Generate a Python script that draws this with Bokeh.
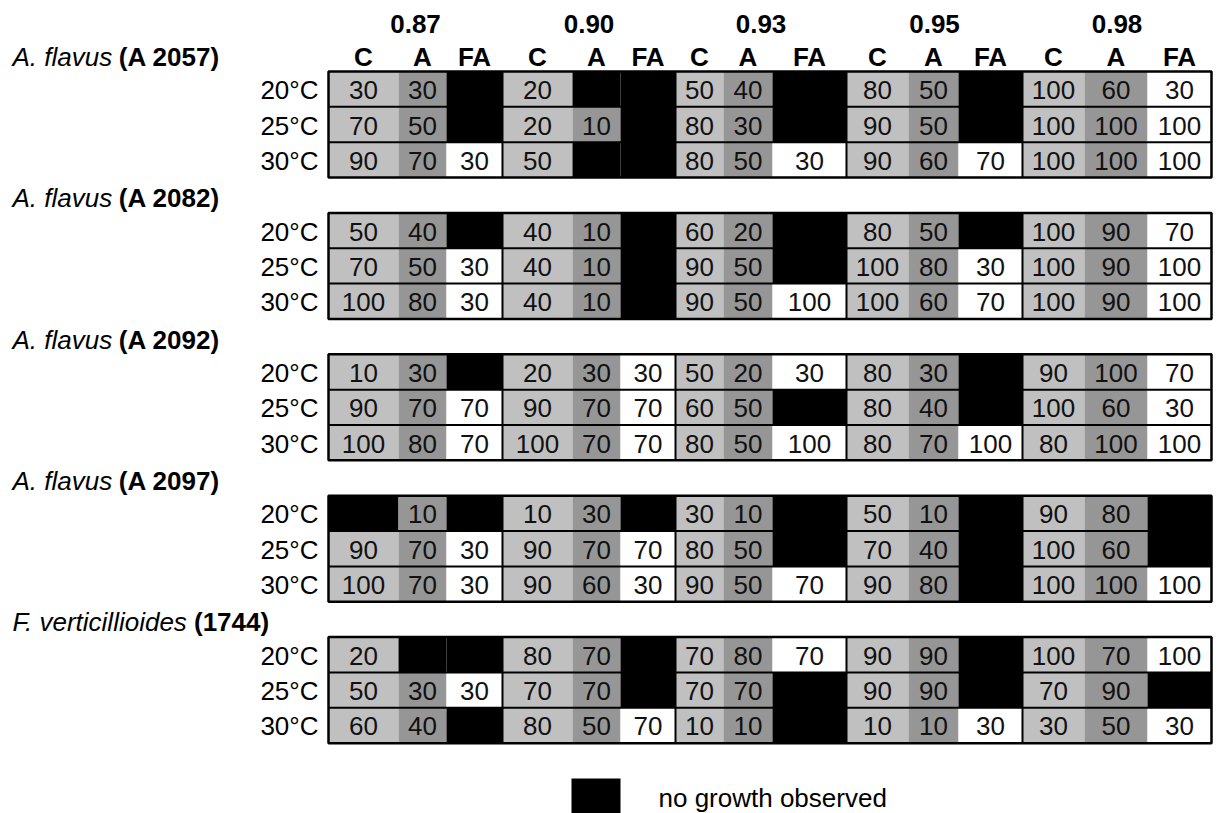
from bokeh.plotting import figure
from bokeh.models import Range1d, ColumnDataSource
from bokeh.embed import file_html
from bokeh.resources import INLINE
from bokeh.core.properties import value

# ---------------- data ----------------
aw_levels = ["0.87", "0.90", "0.93", "0.95", "0.98"]
treatments = ["C", "A", "FA"]
temperatures = ["20°C", "25°C", "30°C"]
species = ["A. flavus", "A. flavus", "A. flavus", "A. flavus", "F. verticillioides"]
isolates = ["(A 2057)", "(A 2082)", "(A 2092)", "(A 2097)", "(1744)"]
N = None  # no growth observed

growth_A2057 = [
    [30, 30, N, 20, N, N, 50, 40, N, 80, 50, N, 100, 60, 30],
    [70, 50, N, 20, 10, N, 80, 30, N, 90, 50, N, 100, 100, 100],
    [90, 70, 30, 50, N, N, 80, 50, 30, 90, 60, 70, 100, 100, 100],
]
growth_A2082 = [
    [50, 40, N, 40, 10, N, 60, 20, N, 80, 50, N, 100, 90, 70],
    [70, 50, 30, 40, 10, N, 90, 50, N, 100, 80, 30, 100, 90, 100],
    [100, 80, 30, 40, 10, N, 90, 50, 100, 100, 60, 70, 100, 90, 100],
]
growth_A2092 = [
    [10, 30, N, 20, 30, 30, 50, 20, 30, 80, 30, N, 90, 100, 70],
    [90, 70, 70, 90, 70, 70, 60, 50, N, 80, 40, N, 100, 60, 30],
    [100, 80, 70, 100, 70, 70, 80, 50, 100, 80, 70, 100, 80, 100, 100],
]
growth_A2097 = [
    [N, 10, N, 10, 30, N, 30, 10, N, 50, 10, N, 90, 80, N],
    [90, 70, 30, 90, 70, 70, 80, 50, N, 70, 40, N, 100, 60, N],
    [100, 70, 30, 90, 60, 30, 90, 50, 70, 90, 80, N, 100, 100, 100],
]
growth_F1744 = [
    [20, N, N, 80, 70, N, 70, 80, 70, 90, 90, N, 100, 70, 100],
    [50, 30, 30, 70, 70, N, 70, 70, N, 90, 90, N, 70, 90, N],
    [60, 40, N, 80, 50, 70, 10, 10, N, 10, 10, 30, 30, 50, 30],
]
growth_tables = [growth_A2057, growth_A2082, growth_A2092, growth_A2097, growth_F1744]
legend_label = "no growth observed"

# ---------------- layout / style ----------------
W, H = 1218, 813
FONT = value("Liberation Sans")
FS = "26px"
FS_PX = 26
col_edges = [328, 398, 446, 502, 572, 620, 675, 723, 772, 846, 908, 958, 1022, 1084, 1147, 1211]
table_left, table_right = col_edges[0], col_edges[-1]
table_top = 71.0
row_h = 35.35
block_pitch = 4 * row_h
treat_colors = {"C": "#c0c0c0", "A": "#969696", "FA": "#ffffff"}
nogrowth_color = "#000000"

# approximate advance widths (em) of the italic label characters
ADV = {'A': .667, '.': .278, ' ': .278, 'f': .278, 'l': .2, 'a': .556, 'v': .5,
       'u': .556, 's': .5, 'F': .611, 'e': .556, 'r': .333, 't': .278, 'i': .2,
       'c': .5, 'o': .556, 'd': .556}


def text_width(s):
    return sum(ADV.get(ch, .556) for ch in s) * FS_PX


p = figure(width=W, height=H, x_range=Range1d(0, W), y_range=Range1d(H, 0),
           output_backend="svg", toolbar_location=None,
           x_axis_location=None, y_axis_location=None,
           min_border=0, outline_line_color=None)
p.grid.visible = False
p.background_fill_color = "white"
p.border_fill_color = "white"

# ---------------- cells ----------------
cl, cr, ct, cb, cf, tx, ty, tt = [], [], [], [], [], [], [], []
for b, table in enumerate(growth_tables):
    btop = table_top + b * block_pitch
    for r, row in enumerate(table):
        top = btop + r * row_h
        for c, v in enumerate(row):
            treat = treatments[c % 3]
            left, right = col_edges[c], col_edges[c + 1]
            cl.append(left)
            cr.append(right)
            ct.append(top)
            cb.append(top + row_h)
            cf.append(nogrowth_color if v is None else treat_colors[treat])
            if v is not None:
                tx.append((left + right) / 2)
                ty.append(top + row_h / 2 + 1)
                tt.append(str(v))

p.quad(left="l", right="r", top="t", bottom="b", fill_color="f", line_color=None,
       source=ColumnDataSource(dict(l=cl, r=cr, t=ct, b=cb, f=cf)))

# ---------------- grid lines ----------------
hx0, hx1, hy = [], [], []
vx, vy0, vy1 = [], [], []
for b in range(len(growth_tables)):
    btop = table_top + b * block_pitch
    for r in range(1, len(temperatures)):
        hx0.append(table_left)
        hx1.append(table_right)
        hy.append(btop + r * row_h)
    for g in range(1, len(aw_levels)):
        x = col_edges[g * 3]
        vx.append(x)
        vy0.append(btop)
        vy1.append(btop + 3 * row_h)
p.segment(x0=hx0, y0=hy, x1=hx1, y1=hy, line_color="black", line_width=2)
p.segment(x0=vx, y0=vy0, x1=vx, y1=vy1, line_color="black", line_width=2)

btops = [table_top + b * block_pitch for b in range(len(growth_tables))]
p.quad(left=[table_left] * len(btops), right=[table_right] * len(btops),
       top=btops, bottom=[t + 3 * row_h for t in btops],
       fill_color=None, line_color="black", line_width=2.5)

# ---------------- cell values ----------------
p.text(x=tx, y=ty, text=tt, text_align="center", text_baseline="middle",
       text_font=FONT, text_font_size=FS, text_color="#111111")

# ---------------- headers ----------------
gx = [(col_edges[g * 3] + col_edges[g * 3 + 3]) / 2 for g in range(len(aw_levels))]
p.text(x=gx, y=[23] * len(gx), text=aw_levels, text_align="center", text_baseline="middle",
       text_font=FONT, text_font_size=FS, text_font_style="bold", text_color="black")

hdr_x = [(col_edges[c] + col_edges[c + 1]) / 2 for c in range(len(col_edges) - 1)]
hdr_t = [treatments[c % 3] for c in range(len(col_edges) - 1)]
p.text(x=hdr_x, y=[table_top - row_h / 2 + 3] * len(hdr_x), text=hdr_t,
       text_align="center", text_baseline="middle",
       text_font=FONT, text_font_size=FS, text_font_style="bold", text_color="black")

# temperature labels
tlx, tly, tlt = [], [], []
for b in range(len(growth_tables)):
    for r, t in enumerate(temperatures):
        tlx.append(318)
        tly.append(btops[b] + r * row_h + row_h / 2 + 1)
        tlt.append(t)
p.text(x=tlx, y=tly, text=tlt, text_align="right", text_baseline="middle",
       text_font=FONT, text_font_size=FS, text_color="black")

# strain labels
lab_y = [t - row_h / 2 + 3 for t in btops]
p.text(x=[12] * len(species), y=lab_y, text=species, text_align="left", text_baseline="middle",
       text_font=FONT, text_font_size=FS, text_font_style="italic", text_color="black")
p.text(x=[12 + text_width(s + " ") for s in species], y=lab_y, text=isolates,
       text_align="left", text_baseline="middle",
       text_font=FONT, text_font_size=FS, text_font_style="bold", text_color="black")

# ---------------- legend ----------------
p.quad(left=[571], right=[620], top=[778], bottom=[827], fill_color=nogrowth_color, line_color=None)
p.text(x=[658], y=[797], text=[legend_label], text_align="left", text_baseline="middle",
       text_font=FONT, text_font_size=FS, text_color="black")

open("out.html", "w").write(file_html(p, INLINE))
